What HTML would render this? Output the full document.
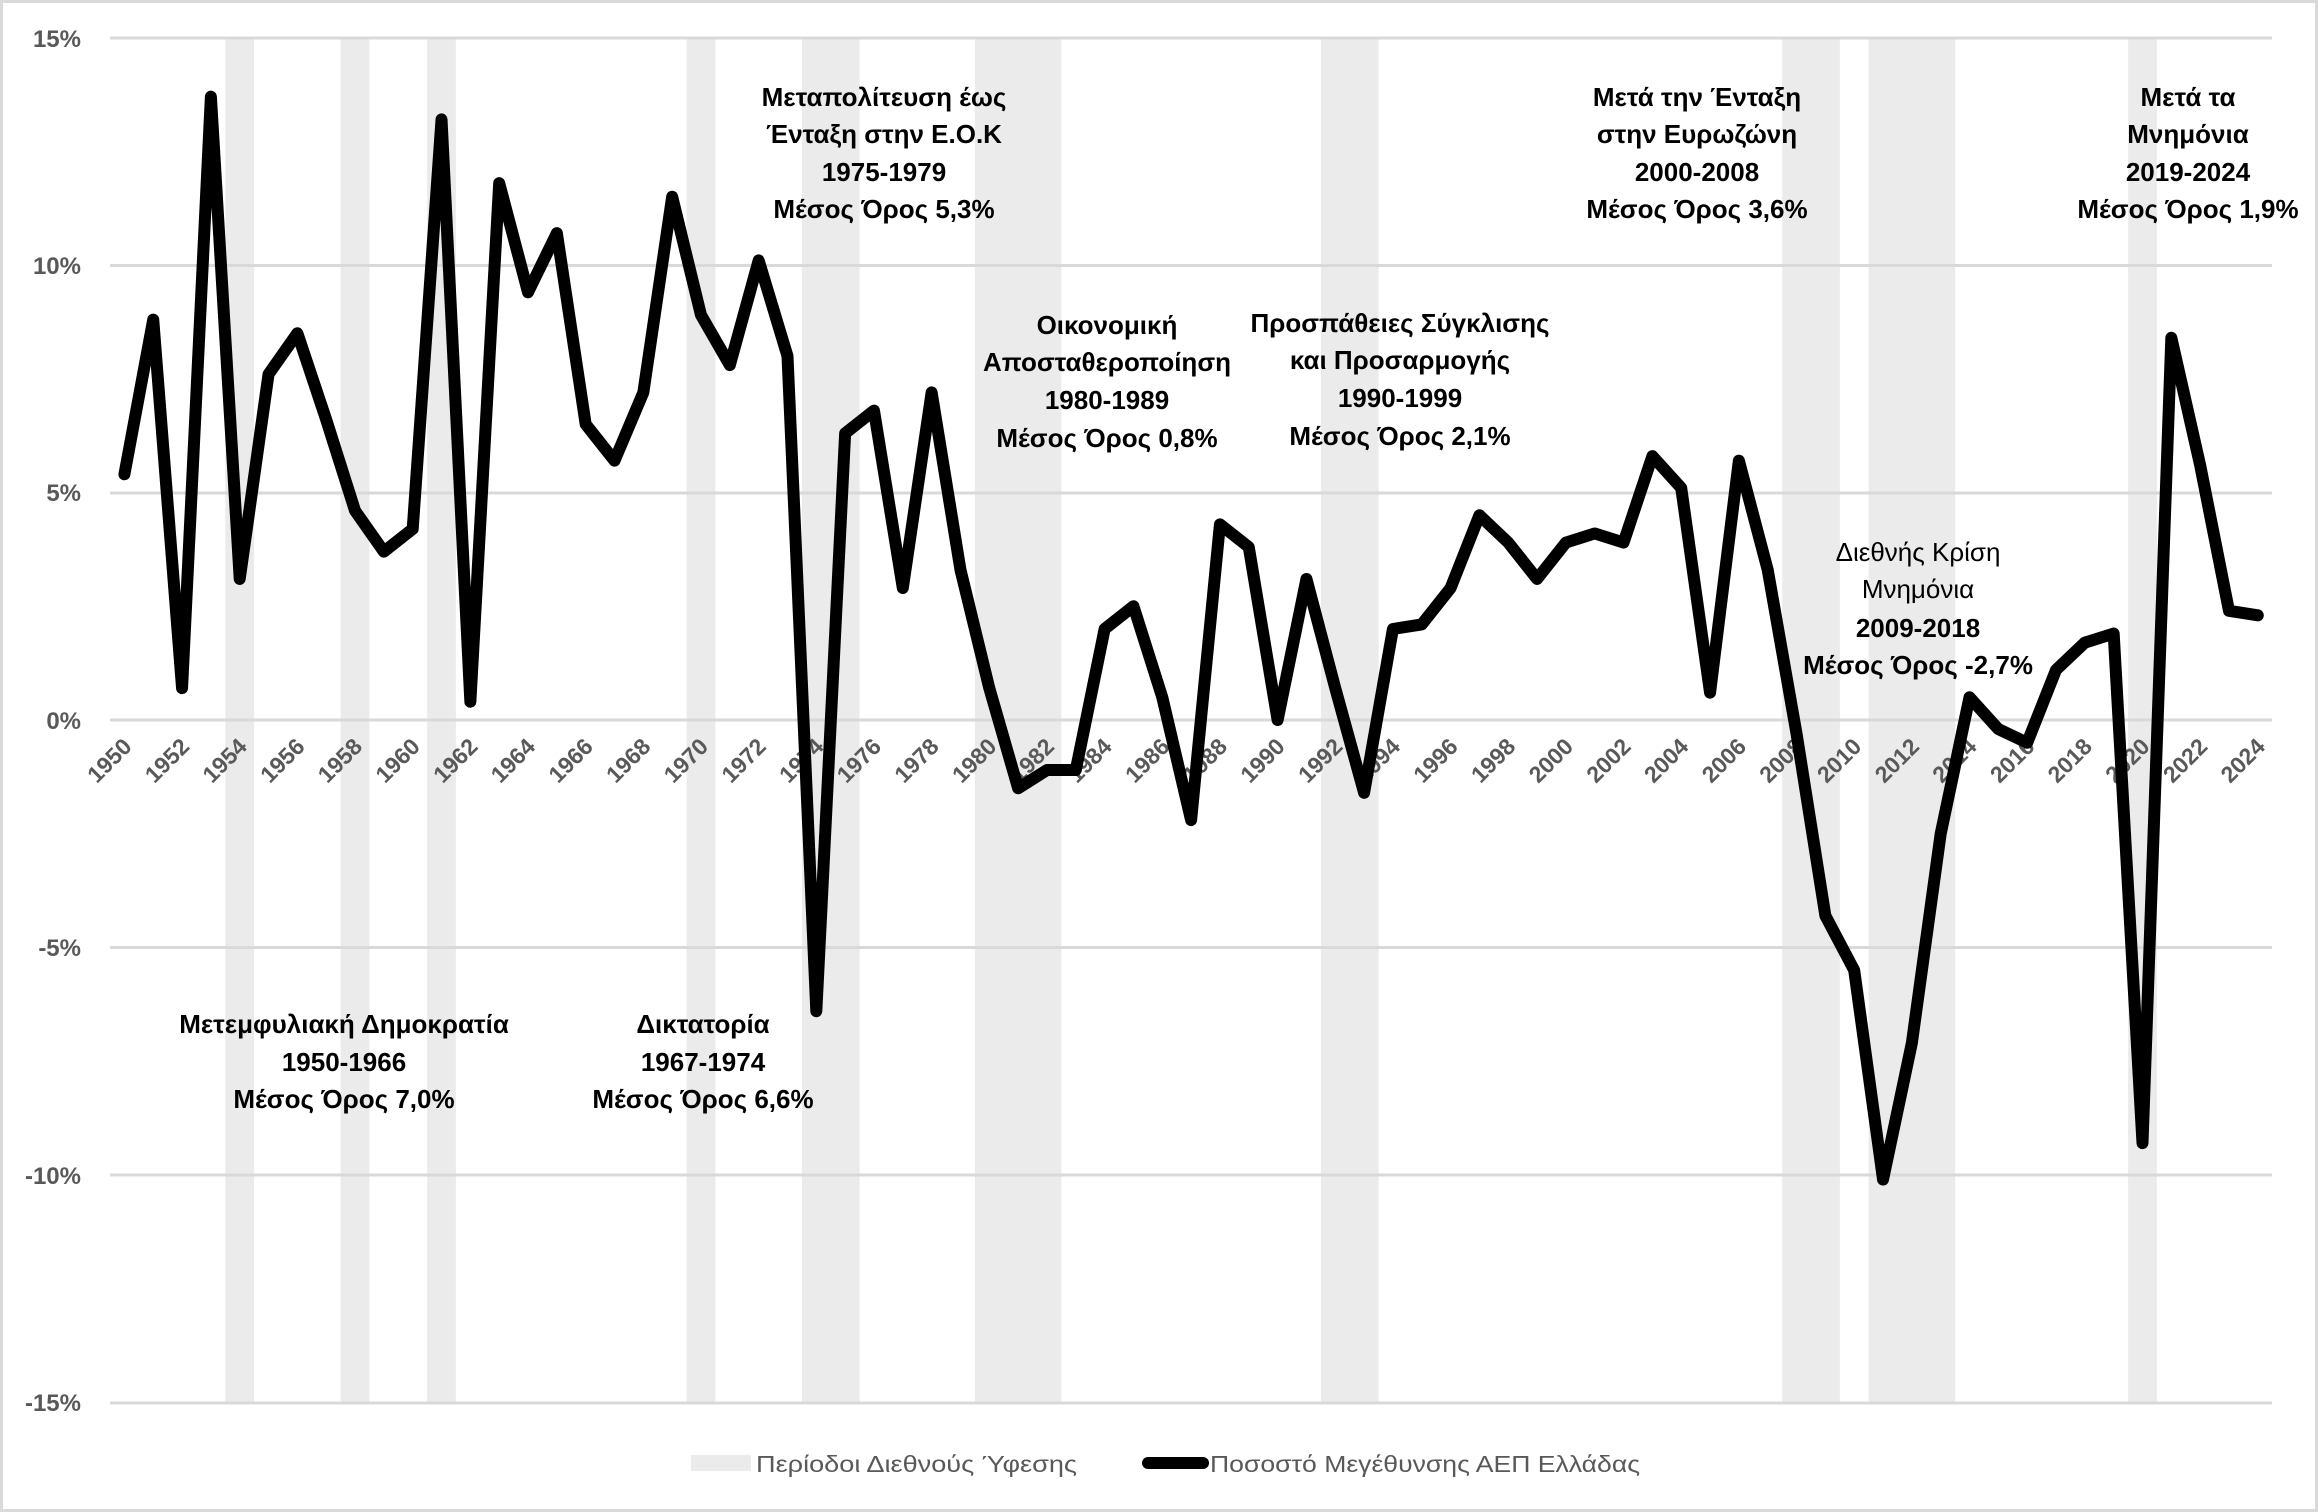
<!DOCTYPE html>
<html><head><meta charset="utf-8"><style>
html,body{margin:0;padding:0;background:#fff}
svg{display:block}
text{font-family:"Liberation Sans","DejaVu Sans",sans-serif}
</style></head><body>
<svg width="2318" height="1512" viewBox="0 0 2318 1512" xmlns="http://www.w3.org/2000/svg">
<rect x="1.5" y="1.5" width="2315" height="1509" fill="#fff" stroke="#d9d9d9" stroke-width="3"/>
<g fill="#ebebeb">
<rect x="225.3" y="38" width="28.8" height="1365"/>
<rect x="340.6" y="38" width="28.8" height="1365"/>
<rect x="427.1" y="38" width="28.8" height="1365"/>
<rect x="686.6" y="38" width="28.8" height="1365"/>
<rect x="801.9" y="38" width="57.7" height="1365"/>
<rect x="974.9" y="38" width="86.5" height="1365"/>
<rect x="1320.9" y="38" width="57.7" height="1365"/>
<rect x="1782.2" y="38" width="57.7" height="1365"/>
<rect x="1868.6" y="38" width="86.5" height="1365"/>
<rect x="2128.1" y="38" width="28.8" height="1365"/>
</g>
<g stroke="#d9d9d9" stroke-width="3">
<line x1="110" x2="2272" y1="38" y2="38"/>
<line x1="110" x2="2272" y1="265.5" y2="265.5"/>
<line x1="110" x2="2272" y1="493" y2="493"/>
<line x1="110" x2="2272" y1="720" y2="720"/>
<line x1="110" x2="2272" y1="947.5" y2="947.5"/>
<line x1="110" x2="2272" y1="1175" y2="1175"/>
<line x1="110" x2="2272" y1="1403" y2="1403"/>
</g>
<g fill="#595959" font-weight="bold" font-size="24" text-anchor="end">
<text x="81" y="47">15%</text>
<text x="81" y="274">10%</text>
<text x="81" y="501">5%</text>
<text x="81" y="729">0%</text>
<text x="81" y="956">-5%</text>
<text x="81" y="1184">-10%</text>
<text x="81" y="1411">-15%</text>
</g>
<g fill="#595959" font-weight="bold" font-size="23" text-anchor="end">
<text transform="translate(133,748) rotate(-45)">1950</text>
<text transform="translate(190.7,748) rotate(-45)">1952</text>
<text transform="translate(248.3,748) rotate(-45)">1954</text>
<text transform="translate(306,748) rotate(-45)">1956</text>
<text transform="translate(363.6,748) rotate(-45)">1958</text>
<text transform="translate(421.3,748) rotate(-45)">1960</text>
<text transform="translate(479,748) rotate(-45)">1962</text>
<text transform="translate(536.6,748) rotate(-45)">1964</text>
<text transform="translate(594.3,748) rotate(-45)">1966</text>
<text transform="translate(651.9,748) rotate(-45)">1968</text>
<text transform="translate(709.6,748) rotate(-45)">1970</text>
<text transform="translate(767.3,748) rotate(-45)">1972</text>
<text transform="translate(824.9,748) rotate(-45)">1974</text>
<text transform="translate(882.6,748) rotate(-45)">1976</text>
<text transform="translate(940.2,748) rotate(-45)">1978</text>
<text transform="translate(997.9,748) rotate(-45)">1980</text>
<text transform="translate(1055.6,748) rotate(-45)">1982</text>
<text transform="translate(1113.2,748) rotate(-45)">1984</text>
<text transform="translate(1170.9,748) rotate(-45)">1986</text>
<text transform="translate(1228.5,748) rotate(-45)">1988</text>
<text transform="translate(1286.2,748) rotate(-45)">1990</text>
<text transform="translate(1343.9,748) rotate(-45)">1992</text>
<text transform="translate(1401.5,748) rotate(-45)">1994</text>
<text transform="translate(1459.2,748) rotate(-45)">1996</text>
<text transform="translate(1516.8,748) rotate(-45)">1998</text>
<text transform="translate(1574.5,748) rotate(-45)">2000</text>
<text transform="translate(1632.2,748) rotate(-45)">2002</text>
<text transform="translate(1689.8,748) rotate(-45)">2004</text>
<text transform="translate(1747.5,748) rotate(-45)">2006</text>
<text transform="translate(1805.1,748) rotate(-45)">2008</text>
<text transform="translate(1862.8,748) rotate(-45)">2010</text>
<text transform="translate(1920.5,748) rotate(-45)">2012</text>
<text transform="translate(1978.1,748) rotate(-45)">2014</text>
<text transform="translate(2035.8,748) rotate(-45)">2016</text>
<text transform="translate(2093.4,748) rotate(-45)">2018</text>
<text transform="translate(2151.1,748) rotate(-45)">2020</text>
<text transform="translate(2208.8,748) rotate(-45)">2022</text>
<text transform="translate(2266.4,748) rotate(-45)">2024</text>
</g>
<g transform="translate(124.4,720) scale(28.83,-45.5)">
<polyline fill="none" stroke="#000" stroke-width="12" stroke-linejoin="round" stroke-linecap="round" vector-effect="non-scaling-stroke"
points="0,5.4 1,8.8 2,0.7 3,13.7 4,3.1 5,7.6 6,8.5 7,6.6 8,4.6 9,3.7 10,4.2 11,13.2 12,0.4 13,11.8 14,9.4 15,10.7 16,6.5 17,5.7 18,7.2 19,11.5 20,8.9 21,7.8 22,10.1 23,8.0 24,-6.4 25,6.3 26,6.8 27,2.9 28,7.2 29,3.3 30,0.7 31,-1.5 32,-1.1 33,-1.1 34,2.0 35,2.5 36,0.5 37,-2.2 38,4.3 39,3.8 40,0.0 41,3.1 42,0.7 43,-1.6 44,2.0 45,2.1 46,2.9 47,4.5 48,3.9 49,3.1 50,3.9 51,4.1 52,3.9 53,5.8 54,5.1 55,0.6 56,5.7 57,3.3 58,-0.3 59,-4.3 60,-5.5 61,-10.1 62,-7.1 63,-2.5 64,0.5 65,-0.2 66,-0.5 67,1.1 68,1.7 69,1.9 70,-9.3 71,8.4 72,5.6 73,2.4 74,2.3"/>
</g>
<g fill="#000" font-weight="bold" font-size="26" text-anchor="middle">
<text x="884" y="106">Μεταπολίτευση έως</text>
<text x="884" y="143">Ένταξη στην Ε.Ο.Κ</text>
<text x="884" y="181">1975-1979</text>
<text x="884" y="218">Μέσος Όρος 5,3%</text>
<text x="1107" y="334">Οικονομική</text>
<text x="1107" y="371">Αποσταθεροποίηση</text>
<text x="1107" y="409">1980-1989</text>
<text x="1107" y="447">Μέσος Όρος 0,8%</text>
<text x="1400" y="332">Προσπάθειες Σύγκλισης</text>
<text x="1400" y="369">και Προσαρμογής</text>
<text x="1400" y="407">1990-1999</text>
<text x="1400" y="445">Μέσος Όρος 2,1%</text>
<text x="1697" y="106">Μετά την Ένταξη</text>
<text x="1697" y="143">στην Ευρωζώνη</text>
<text x="1697" y="181">2000-2008</text>
<text x="1697" y="218">Μέσος Όρος 3,6%</text>
<text x="1918" y="561" font-weight="normal">Διεθνής Κρίση</text>
<text x="1918" y="598" font-weight="normal">Μνημόνια</text>
<text x="1918" y="637">2009-2018</text>
<text x="1918" y="674">Μέσος Όρος -2,7%</text>
<text x="2188" y="106">Μετά τα</text>
<text x="2188" y="143">Μνημόνια</text>
<text x="2188" y="181">2019-2024</text>
<text x="2188" y="218">Μέσος Όρος 1,9%</text>
<text x="344" y="1033">Μετεμφυλιακή Δημοκρατία</text>
<text x="344" y="1071">1950-1966</text>
<text x="344" y="1108">Μέσος Όρος 7,0%</text>
<text x="703" y="1033">Δικτατορία</text>
<text x="703" y="1071">1967-1974</text>
<text x="703" y="1108">Μέσος Όρος 6,6%</text>
</g>
<rect x="691" y="1455" width="60" height="16" fill="#ebebeb"/>
<text x="756" y="1472" fill="#595959" font-size="23" textLength="321" lengthAdjust="spacingAndGlyphs">Περίοδοι Διεθνούς Ύφεσης</text>
<line x1="1148" x2="1203" y1="1463" y2="1463" stroke="#000" stroke-width="12" stroke-linecap="round"/>
<text x="1210" y="1472" fill="#595959" font-size="23" textLength="430" lengthAdjust="spacingAndGlyphs">Ποσοστό Μεγέθυνσης ΑΕΠ Ελλάδας</text>
</svg>
</body></html>
